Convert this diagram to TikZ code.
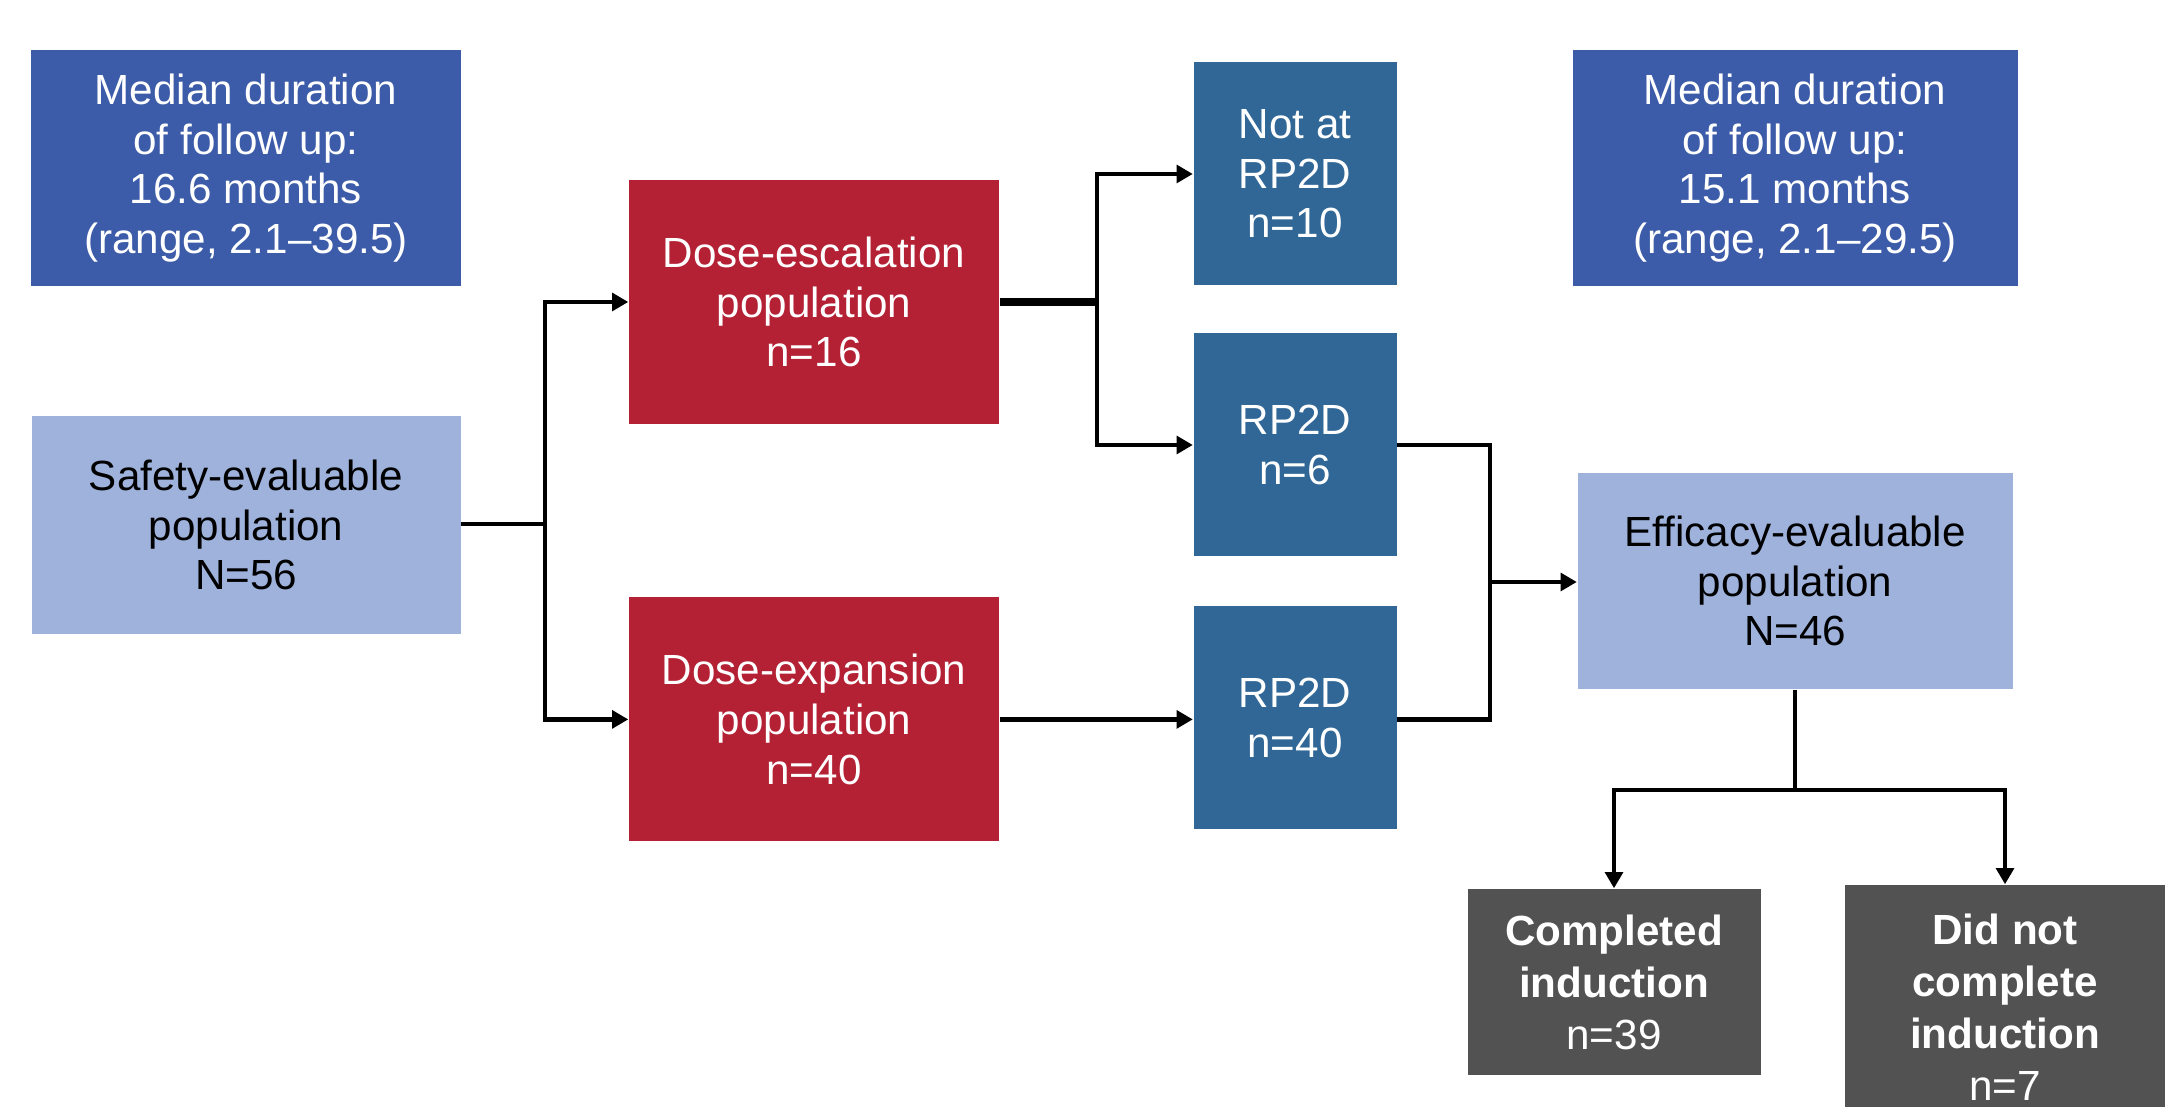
\documentclass[tikz,border=0pt]{standalone}
\usepackage{fontspec}
\setmainfont{Liberation Sans}
\usepackage{xcolor}
\usepackage{tikz}
\usetikzlibrary{arrows.meta, positioning, calc}
\definecolor{medianBlue}{HTML}{3C5BA8}
\definecolor{paleBlue}{HTML}{9EB2DC}
\definecolor{doseRed}{HTML}{B42034}
\definecolor{rpBlue}{HTML}{306796}
\definecolor{darkGray}{HTML}{525252}

\begin{document}
\begin{tikzpicture}[
    node distance=0.8cm,
    box/.style={draw=none, minimum width=3.7cm, minimum height=2.4cm, align=center, inner sep=0pt, font=\fontsize{12}{14.1}\selectfont},
    median/.style={box, fill=medianBlue, text=white, minimum width=4.3cm, minimum height=2.36cm},
    pop/.style={box, fill=paleBlue, text=black, minimum height=2.18cm},
    dose/.style={box, fill=doseRed, text=white, minimum height=2.44cm},
    rp/.style={box, fill=rpBlue, text=white, minimum width=2.03cm, minimum height=2.23cm},
    outcome/.style={box, fill=darkGray, text=white, font=\fontsize{12}{14.8}\selectfont},
    link/.style={line width=1.35pt},
    arr/.style={link, -{Triangle[length=4.6pt, width=5pt]}},
]
    \clip (0,0) rectangle (21.69,11.06);
    \fill[white] (0,0) rectangle (21.69,11.06);

    % top notes
    \node[median] (medL) at (2.46,9.38) {Median duration\\of follow up:\\16.6 months\\(range, 2.1--39.5)};
    \node[median, minimum width=4.45cm] (medR) at (17.95,9.38) {Median duration\\of follow up:\\15.1 months\\(range, 2.1--29.5)};

    % populations
    \node[pop, minimum width=4.29cm] (safety) at (2.46,5.81) {Safety-evaluable\\population\\N=56};
    \node[dose] (esc) at (8.14,8.04) {Dose-escalation\\population\\n=16};
    \node[dose, below=1.72cm of esc] (exp) {Dose-expansion\\population\\n=40};
    \node[rp] (notrp) at (12.95,9.32) {Not at\\RP2D\\n=10};
    \node[rp] (rp6) at (12.95,6.61) {RP2D\\n=6};
    \node[rp] (rp40) at (12.95,3.88) {RP2D\\n=40};
    \node[pop, minimum width=4.35cm, minimum height=2.16cm] (eff) at (17.95,5.25) {Efficacy-evaluable\\population\\N=46};

    % induction
    \node[outcome, minimum width=2.93cm, minimum height=1.86cm] (done) at (16.14,1.24) {\textbf{Completed}\\\textbf{induction}\\n=39};
    \node[outcome, minimum width=3.2cm, minimum height=2.44cm] (notdone) at (20.05,0.99) {\textbf{Did not}\\\textbf{complete}\\\textbf{induction}\\n=7};

    % connectors
    \coordinate (jL) at (5.45,5.82);
    \draw[link] (safety.east |- jL) -- (jL);
    \draw[arr] (jL) |- (esc.west);
    \draw[arr] (jL) |- (exp.west);

    \coordinate (jM) at (10.97,8.04);
    \draw[link, line width=2pt] (esc.east) -- (jM);
    \draw[arr] (jM) |- (notrp.west);
    \draw[arr] (jM) |- (rp6.west);
    \draw[arr] (exp.east) -- (exp.east -| rp40.west);

    \coordinate (jR) at (14.90,5.24);
    \draw[link] (rp6.east) -| (jR) |- (rp40.east |- exp.east);
    \draw[arr] (jR) -- (eff.west |- jR);

    \coordinate (jB) at (eff.south |- 0,3.16);
    \draw[link] (eff.south) -- (jB);
    \draw[arr] (jB) -| (done.north);
    \draw[arr] (jB) -| (notdone.north);
\end{tikzpicture}
\end{document}
